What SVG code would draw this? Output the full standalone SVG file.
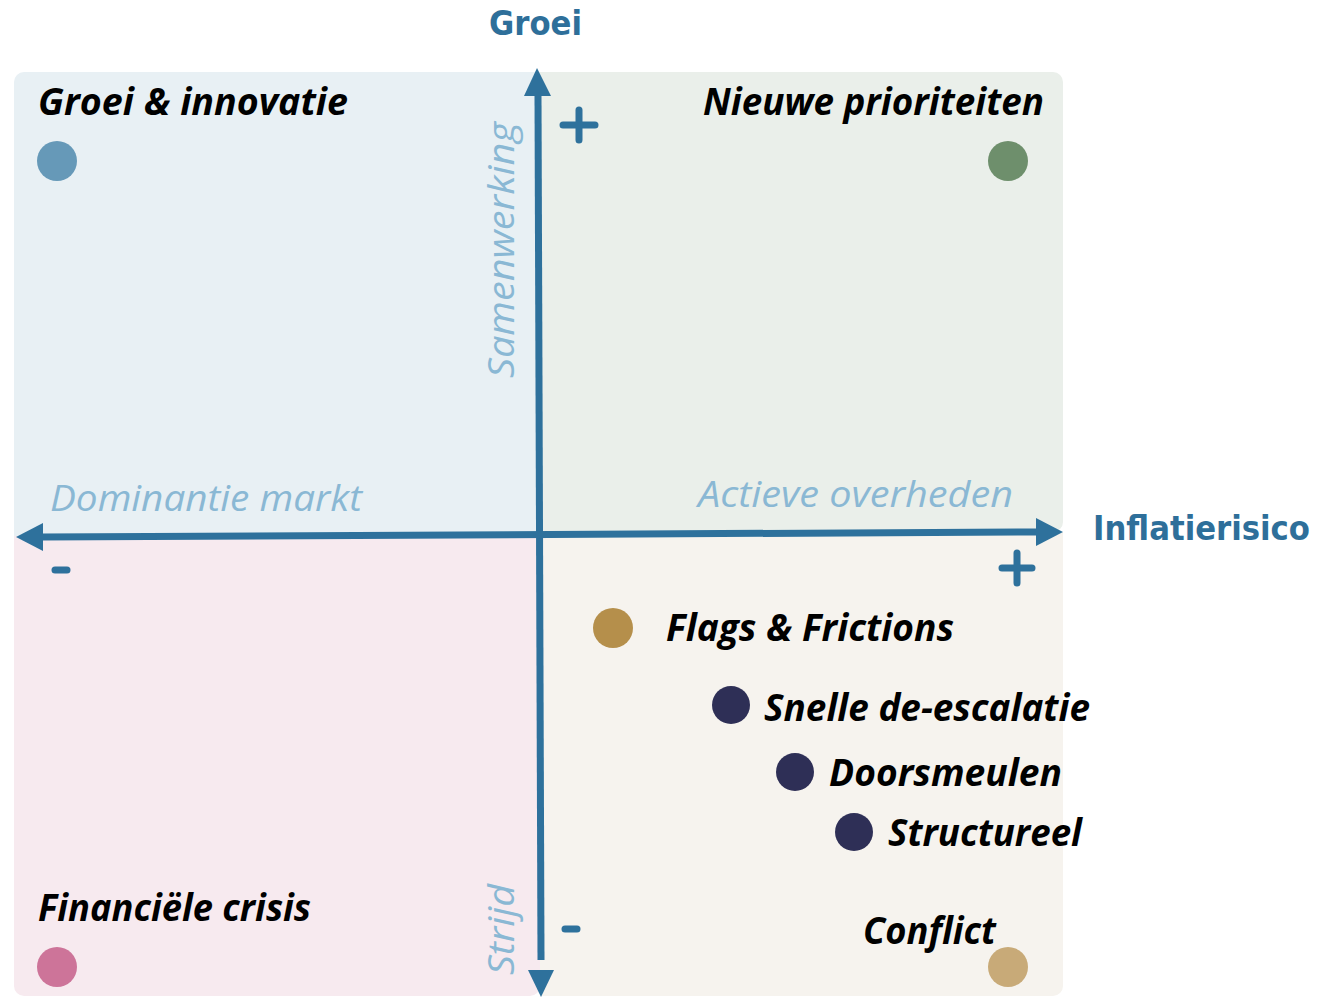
<svg xmlns="http://www.w3.org/2000/svg" width="1340" height="997" viewBox="0 0 1340 997">
<style>
.lbl{font-family:"Open Sans","Liberation Sans",sans-serif;font-weight:bold;font-style:italic;font-size:37px;fill:#000}
.ax{font-family:"Open Sans","Liberation Sans",sans-serif;font-style:italic;font-size:37px;fill:#8ab8d4}
.ttl{font-family:"DejaVu Sans Condensed","DejaVu Sans",sans-serif;font-weight:bold;font-size:34px;fill:#2e6f9a}
.axis{stroke:#2e719c;stroke-width:7;fill:none}
.sign{stroke:#2e719c;stroke-width:7;stroke-linecap:round;fill:none}
</style>
<rect width="1340" height="997" fill="#fff"/>
<g id="quadrants">
<rect id="q-tl" x="14" y="72" width="540" height="480" rx="10" fill="#e8f0f4"/>
<rect id="q-tr" x="540" y="72" width="523" height="460" rx="10" fill="#eaefea"/>
<rect id="q-bl" x="14" y="536" width="526" height="460" rx="10" fill="#f7eaef"/>
<rect id="q-br" x="540" y="532" width="523" height="464" rx="10" fill="#f6f3ee"/>
<rect x="540" y="72" width="20" height="460" fill="#eaefea"/>
<rect x="14" y="536" width="526" height="20" fill="#f7eaef"/>
<rect x="540" y="532" width="20" height="464" fill="#f6f3ee"/>
<rect x="540" y="532" width="523" height="20" fill="#f6f3ee"/>
</g>
<g id="connectors">
<line class="axis" x1="541" y1="960" x2="538" y2="96"/>
<path d="M537,68 L524,96 L551,96 z" fill="#2e719c"/>
<path d="M541,997 L528,970 L554,970 z" fill="#2e719c"/>
<line class="axis" x1="42" y1="537" x2="1037" y2="532"/>
<path d="M16,537 L43,523 L43,551 z" fill="#2e719c"/>
<path d="M1063,532 L1036,518 L1036,546 z" fill="#2e719c"/>
</g>
<g id="axis-labels">
<text class="ttl" x="489" y="35" textLength="93" lengthAdjust="spacingAndGlyphs">Groei</text>
<text class="ttl" x="1093" y="540" textLength="217" lengthAdjust="spacingAndGlyphs">Inflatierisico</text>
<text class="ax" x="50" y="511" textLength="312" lengthAdjust="spacingAndGlyphs">Dominantie markt</text>
<text class="ax" x="698" y="507" textLength="315" lengthAdjust="spacingAndGlyphs">Actieve overheden</text>
<text class="ax" transform="translate(514,378) rotate(-90)" textLength="256" lengthAdjust="spacingAndGlyphs">Samenwerking</text>
<text class="ax" transform="translate(514,975) rotate(-90)" textLength="91" lengthAdjust="spacingAndGlyphs">Strijd</text>
<path class="sign" d="M563,125 H595 M579,110 V140"/>
<path class="sign" d="M1002,568 H1032 M1017,553 V583"/>
<path class="sign" d="M55,570 H67"/>
<path class="sign" d="M565,929 H577"/>
</g>
<g id="node-groei-innovatie">
<text class="lbl" x="38" y="115" textLength="310" lengthAdjust="spacingAndGlyphs">Groei &amp; innovatie</text>
<circle cx="57" cy="161" r="20" fill="#6699b8"/>
</g>
<g id="node-nieuwe-prioriteiten">
<text class="lbl" x="703" y="115" textLength="341" lengthAdjust="spacingAndGlyphs">Nieuwe prioriteiten</text>
<circle cx="1008" cy="161" r="20" fill="#6e8f6c"/>
</g>
<g id="node-financiele-crisis">
<text class="lbl" x="38" y="921" textLength="273" lengthAdjust="spacingAndGlyphs">Financiële crisis</text>
<circle cx="57" cy="967" r="20" fill="#cd7499"/>
</g>
<g id="node-conflict">
<text class="lbl" x="863" y="944" textLength="133" lengthAdjust="spacingAndGlyphs">Conflict</text>
<circle cx="1008" cy="967" r="20" fill="#c8aa78"/>
</g>
<g id="node-flags">
<circle cx="613" cy="628" r="20" fill="#b58f4b"/>
<text class="lbl" x="666" y="641" textLength="288" lengthAdjust="spacingAndGlyphs">Flags &amp; Frictions</text>
</g>
<g id="node-snelle">
<circle cx="731" cy="705" r="19" fill="#2e2f56"/>
<text class="lbl" x="764" y="721" textLength="326" lengthAdjust="spacingAndGlyphs">Snelle de-escalatie</text>
</g>
<g id="node-doorsmeulen">
<circle cx="795" cy="772" r="19" fill="#2e2f56"/>
<text class="lbl" x="829" y="786" textLength="233" lengthAdjust="spacingAndGlyphs">Doorsmeulen</text>
</g>
<g id="node-structureel">
<circle cx="854" cy="832" r="19" fill="#2e2f56"/>
<text class="lbl" x="888" y="846" textLength="194" lengthAdjust="spacingAndGlyphs">Structureel</text>
</g>
</svg>
